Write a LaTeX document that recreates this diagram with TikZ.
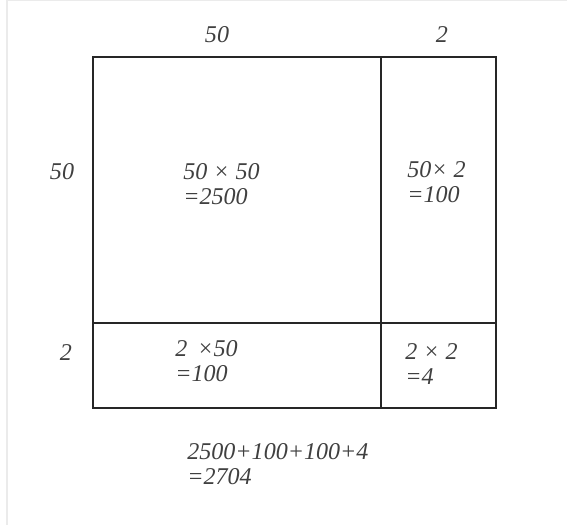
\documentclass[tikz,border=0pt]{standalone}
\usepackage{fontspec}
\setmainfont{Liberation Serif}
\begin{document}
\begin{tikzpicture}[x=0.02cm, y=-0.02cm,
        lbl/.style={font=\fontsize{13.7}{14.5}\selectfont\itshape, text=black!75, inner sep=0pt, align=left, anchor=west}]
        \useasboundingbox (0,0) rectangle (567,525);
        \draw[black!8, line width=1pt] (7,0) -- (7,525);
        \draw[black!8, line width=0.6pt] (7,0.5) -- (567,0.5);

        % the square and its cuts
        \coordinate (tl) at (93,57);
        \coordinate (br) at (496,408);
        \draw[line width=0.8pt, black!85] (tl) rectangle (br);
        \draw[line width=0.8pt, black!85] (381,57) -- (381,408);
        \draw[line width=0.8pt, black!85] (93,323) -- (496,323);

        % side lengths
        \node[lbl, anchor=center] (topA) at (217,35) {50};
        \node[lbl, anchor=center] (topB) at (442,35) {2};
        \node[lbl, anchor=center] (leftA) at (62,172) {50};
        \node[lbl, anchor=center] (leftB) at (66,353) {2};

        % areas
        \node[lbl] (big) at (183,184) {50 × 50\\=2500};
        \node[lbl] (right) at (407,182) {50× 2\\=100};
        \node[lbl] (low) at (175,361) {2 \,×50\\=100};
        \node[lbl] (small) at (405,364) {2 × 2\\=4};
        \node[lbl] (total) at (187,464) {2500+100+100+4\\=2704};
\end{tikzpicture}
\end{document}
